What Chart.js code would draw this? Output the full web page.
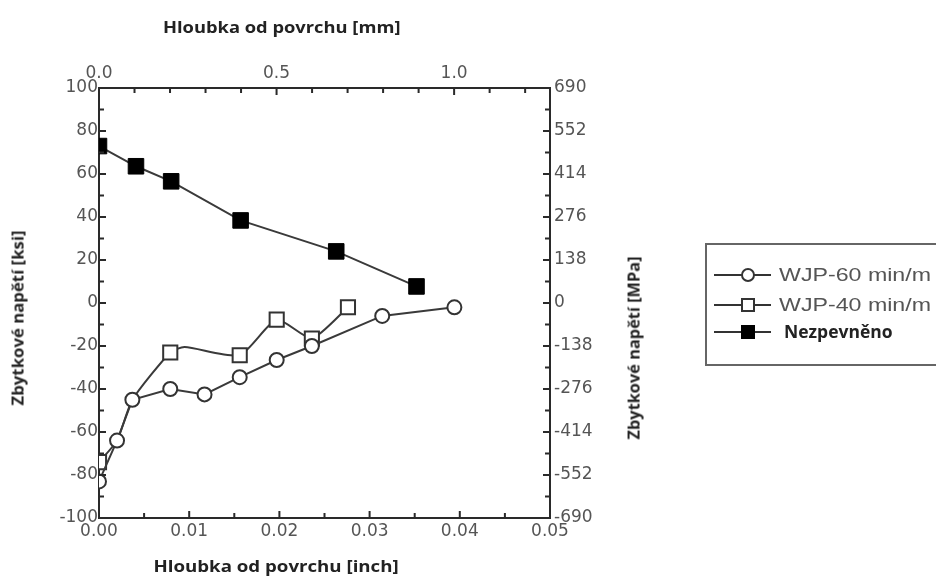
<!DOCTYPE html>
<html>
<head>
<meta charset="utf-8">
<script src="https://cdn.jsdelivr.net/npm/chart.js@4"></script>
<style>
    body { margin: 0; background: #fff; }
    #wrap { position: relative; width: 936px; height: 581px; overflow: hidden; }
    #chart { position: absolute; left: 0; top: 0; }
    .title { position: absolute; white-space: nowrap; font-family: "Open Sans", sans-serif; font-weight: bold; font-size: 16px; color: #222; line-height: 18px; }
    #legend { position: absolute; left: 705px; top: 243px; width: 260px; height: 119px; border: 2px solid #666; }
    .legend-row { position: absolute; left: 6px; height: 20px; }
    .legend-row svg { position: absolute; left: 0; top: 0; }
    .legend-text { position: absolute; white-space: nowrap; font-family: "Liberation Sans", Arial, sans-serif; font-size: 18px; color: #555; line-height: 20px; top: 0; transform-origin: left center; }
    .legend-text.bold { font-family: "Open Sans", sans-serif; font-weight: bold; font-size: 17px; color: #222; }
</style>
</head>
<body>
<div id="wrap">
    <canvas id="chart" width="936" height="581"></canvas>
    <div class="title" id="title-top">Hloubka od povrchu [mm]</div>
    <div class="title" id="title-bottom">Hloubka od povrchu [inch]</div>
    <div class="title" id="title-left">Zbytkové napětí [ksi]</div>
    <div class="title" id="title-right">Zbytkové napětí [MPa]</div>
    <div id="legend"></div>
</div>
<script>
// WJP-60 min/m (open circles)
const depth60 = [0, 0.002, 0.0037, 0.0079, 0.0117, 0.0156, 0.0197, 0.0236, 0.0314, 0.0394];
const stress60 = [-83, -64, -45, -40, -42.5, -34.5, -26.5, -20, -6, -2];

// WJP-40 min/m (open squares); points with radius 0 only trace the line
const depth40 = [0, 0.002, 0.0037, 0.0079, 0.0095, 0.0156, 0.0197, 0.0236, 0.0276];
const stress40 = [-74, -64, -45, -23, -20.5, -24.3, -7.7, -16.5, -2];
const marker40 = [1, 0, 0, 1, 0, 1, 1, 1, 1];

// Nezpevněno (filled squares)
const depthBase = [0, 0.0041, 0.008, 0.0157, 0.0263, 0.0352];
const stressBase = [73, 63.6, 56.6, 38.4, 24, 7.7];

// axis ticks
const inchTicks = [0, 0.01, 0.02, 0.03, 0.04, 0.05];
const mmTicks = [0, 0.5, 1.0];
const ksiTicks = [-100, -80, -60, -40, -20, 0, 20, 40, 60, 80, 100];
const mpaTicks = [-690, -552, -414, -276, -138, 0, 138, 276, 414, 552, 690];

const seriesNames = ['WJP-60 min/m', 'WJP-40 min/m', 'Nezpevněno'];

function toPoints(xs, ys) {
    return xs.map((x, i) => ({ x: x, y: ys[i] }));
}

const tickFont = { family: '"DejaVu Sans", sans-serif', size: 17 };
const tickColor = '#555';
const axisColor = '#2a2a2a';

// Chart area: left 99, right 550, top 88, bottom 518
const innerTicks = {
    id: 'innerTicks',
    afterDraw(chart) {
        const ctx = chart.ctx;
        const a = chart.chartArea;
        ctx.save();
        ctx.strokeStyle = axisColor;
        ctx.lineWidth = 2;
        ctx.beginPath();
        // left (ksi), every 10
        for (let v = -100; v <= 100; v += 10) {
            const y = chart.scales.y.getPixelForValue(v);
            const len = v % 20 === 0 ? 7 : 5;
            ctx.moveTo(a.left, y); ctx.lineTo(a.left + len, y);
        }
        // right (MPa), every 69
        for (let v = -690; v <= 690; v += 69) {
            const y = chart.scales.y2.getPixelForValue(v);
            const len = v % 138 === 0 ? 7 : 5;
            ctx.moveTo(a.right, y); ctx.lineTo(a.right - len, y);
        }
        // bottom (inch), every 0.005
        for (let i = 0; i <= 10; i++) {
            const x = chart.scales.x.getPixelForValue(i * 0.005);
            const len = i % 2 === 0 ? 7 : 5;
            ctx.moveTo(x, a.bottom); ctx.lineTo(x, a.bottom - len);
        }
        // top (mm), every 0.1
        for (let i = 0; i <= 12; i++) {
            const x = chart.scales.x2.getPixelForValue(i * 0.1);
            const len = i % 5 === 0 ? 7 : 5;
            ctx.moveTo(x, a.top); ctx.lineTo(x, a.top + len);
        }
        ctx.stroke();
        ctx.restore();
    }
};

function axisBase() {
    return {
        type: 'linear',
        grid: { display: false, drawTicks: false },
        border: { display: true, color: axisColor, width: 2 },
        ticks: { font: tickFont, color: tickColor, maxRotation: 0, autoSkip: false }
    };
}

const xAxis = axisBase();
Object.assign(xAxis, {
    position: 'bottom', min: 0, max: 0.05,
    afterBuildTicks: s => { s.ticks = inchTicks.map(v => ({ value: v })); },
    afterFit: s => { s.height = 63; }
});
xAxis.ticks.padding = 3;
xAxis.ticks.callback = v => v.toFixed(2);

const x2Axis = axisBase();
Object.assign(x2Axis, {
    position: 'top', min: 0, max: 1.27,
    afterBuildTicks: s => { s.ticks = mmTicks.map(v => ({ value: v })); },
    afterFit: s => { s.height = 88; }
});
x2Axis.ticks.padding = 4;
x2Axis.ticks.callback = v => v.toFixed(1);

const yAxis = axisBase();
Object.assign(yAxis, {
    position: 'left', min: -100, max: 100,
    afterBuildTicks: s => { s.ticks = ksiTicks.map(v => ({ value: v })); },
    afterFit: s => { s.width = 99; }
});
yAxis.ticks.padding = 1;
yAxis.ticks.callback = v => String(v);

const y2Axis = axisBase();
Object.assign(y2Axis, {
    position: 'right', min: -690, max: 690,
    afterBuildTicks: s => { s.ticks = mpaTicks.map(v => ({ value: v })); },
    afterFit: s => { s.width = 75; }
});
y2Axis.ticks.padding = 4;
y2Axis.ticks.callback = v => String(v);

const lineColor = '#3a3a3a';

new Chart(document.getElementById('chart'), {
    type: 'line',
    data: {
        datasets: [{
            label: seriesNames[0],
            data: toPoints(depth60, stress60),
            borderColor: lineColor,
            borderWidth: 2,
            pointStyle: 'circle',
            pointRadius: 7,
            pointBorderWidth: 2,
            pointBorderColor: '#333',
            pointBackgroundColor: '#fff',
            tension: 0
        }, {
            label: seriesNames[1],
            data: toPoints(depth40, stress40),
            borderColor: lineColor,
            borderWidth: 2,
            pointStyle: 'rect',
            pointRadius: marker40.map(m => m ? 10 : 0),
            pointBorderWidth: 2,
            pointBorderColor: '#333',
            pointBackgroundColor: '#fff',
            tension: 0.2
        }, {
            label: seriesNames[2],
            data: toPoints(depthBase, stressBase),
            borderColor: lineColor,
            borderWidth: 2,
            pointStyle: 'rect',
            pointRadius: 11,
            pointBorderWidth: 1,
            pointBorderColor: '#000',
            pointBackgroundColor: '#000',
            tension: 0
        }]
    },
    options: {
        responsive: false,
        animation: false,
        layout: { padding: { left: 0, top: 0, right: 311, bottom: 0 } },
        plugins: { legend: { display: false }, tooltip: { enabled: false } },
        scales: { x: xAxis, x2: x2Axis, y: yAxis, y2: y2Axis }
    },
    plugins: [innerTicks]
});

// axis titles, stretched to the widths seen in the picture
function placeTitle(id, cx, cy, width, rotate) {
    const el = document.getElementById(id);
    const k = width / el.offsetWidth;
    el.style.left = (cx - el.offsetWidth / 2) + 'px';
    el.style.top = (cy - el.offsetHeight / 2) + 'px';
    el.style.transform = (rotate ? 'rotate(-90deg) ' : '') + 'scaleX(' + k + ')';
}
placeTitle('title-top', 281, 27, 237, false);
placeTitle('title-bottom', 276, 566, 245, false);
placeTitle('title-left', 17, 318, 175, true);
placeTitle('title-right', 633, 348, 183, true);

// legend
const legendRows = [
    { name: seriesNames[0], y: 30, marker: '<circle cx="35" cy="10" r="6" fill="#fff" stroke="#333" stroke-width="2"/>', width: 152, bold: false },
    { name: seriesNames[1], y: 60, marker: '<rect x="29" y="4" width="12" height="12" fill="#fff" stroke="#333" stroke-width="2"/>', width: 152, bold: false },
    { name: seriesNames[2], y: 87, marker: '<rect x="28" y="3" width="14" height="14" fill="#000"/>', width: 109, bold: true }
];
const legend = document.getElementById('legend');
legendRows.forEach(row => {
    const div = document.createElement('div');
    div.className = 'legend-row';
    div.style.top = (row.y - 10) + 'px';
    div.innerHTML = `
        <svg width="60" height="20"><line x1="1" y1="10" x2="58" y2="10" stroke="#333" stroke-width="2"/>${row.marker}</svg>
        <span class="legend-text${row.bold ? ' bold' : ''}">${row.name}</span>
    `;
    legend.appendChild(div);
    const span = div.querySelector('span');
    span.style.left = (row.bold ? 71 : 66) + 'px';
    span.style.transform = 'scaleX(' + (row.width / span.offsetWidth) + ')';
});
</script>
</body>
</html>
